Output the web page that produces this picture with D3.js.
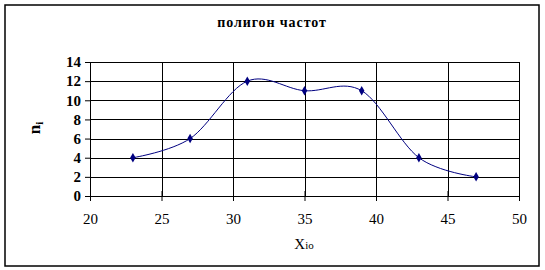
<!DOCTYPE html>
<html>
<head>
<meta charset="utf-8">
<script src="https://cdn.jsdelivr.net/npm/d3@7"></script>
<style>
  body { margin: 0; background: #fff; }
</style>
</head>
<body>
<div id="chart"></div>
<script>
(function(){

    // data
    var xValues = [23, 27, 31, 35, 39, 43, 47];
    var freqs = [4, 6, 12, 11, 11, 4, 2];
    var xTicks = [20, 25, 30, 35, 40, 45, 50];
    var yTicks = [0, 2, 4, 6, 8, 10, 12, 14];

    var width = 545;
    var height = 270;

    var margin = {
        top: 62,
        bottom: 74,
        left: 90,
        right: 26
    };

    var svg = d3.select("#chart")
        .append("svg")
            .attr("width", width)
            .attr("height", height)
            .style("font-family", '"Liberation Serif", "DejaVu Serif", serif');

    // outer frame
    svg.append("rect")
        .attr("x", 5)
        .attr("y", 5)
        .attr("width", 534)
        .attr("height", 261)
        .attr("fill", "#fff")
        .attr("stroke", "#000")
        .attr("stroke-width", 1.5);

    svg.append("text")
        .attr("x", 272)
        .attr("y", 27)
        .attr("text-anchor", "middle")
        .attr("font-size", "14px")
        .attr("font-weight", "bold")
        .attr("letter-spacing", "0.9px")
        .text("полигон частот");

    var plotW = width - margin.left - margin.right;
    var plotH = height - margin.top - margin.bottom;

    var g = svg.append("g")
        .attr("transform", "translate(" + margin.left + "," + margin.top + ")");

    var xScale = d3.scaleLinear()
        .domain([20, 50])
        .range([0, plotW]);

    var yScale = d3.scaleLinear()
        .domain([0, 14])
        .range([plotH, 0]);

    // grid
    g.selectAll(".hgrid")
        .data(yTicks.slice(1))
        .enter()
        .append("line")
        .attr("class", "hgrid")
        .attr("x1", 0)
        .attr("x2", plotW)
        .attr("y1", function(d){ return Math.round(yScale(d)) + 0.5; })
        .attr("y2", function(d){ return Math.round(yScale(d)) + 0.5; })
        .attr("stroke", "#000")
        .attr("stroke-width", 1);

    g.selectAll(".vgrid")
        .data(xTicks.slice(1))
        .enter()
        .append("line")
        .attr("class", "vgrid")
        .attr("y1", 0)
        .attr("y2", plotH)
        .attr("x1", function(d){ return Math.round(xScale(d)) + 0.5; })
        .attr("x2", function(d){ return Math.round(xScale(d)) + 0.5; })
        .attr("stroke", "#000")
        .attr("stroke-width", 1);

    // axes
    var yAxis = d3.axisLeft(yScale)
        .tickValues(yTicks)
        .tickSize(5)
        .tickPadding(4);

    var yg = g.append("g")
        .call(yAxis);
    yg.select(".domain").attr("stroke", "#000");
    yg.selectAll(".tick line").attr("stroke", "#000");
    yg.selectAll(".tick text")
        .attr("font-family", '"Liberation Serif", serif')
        .attr("font-size", "15px")
        .attr("font-weight", "bold")
        .attr("fill", "#000");

    var xAxis = d3.axisBottom(xScale)
        .tickValues(xTicks)
        .tickSize(5)
        .tickPadding(12);

    var xg = g.append("g")
        .attr("transform", "translate(0," + plotH + ")")
        .call(xAxis);
    xg.select(".domain").attr("stroke", "#000");
    xg.selectAll(".tick line")
        .attr("y1", -5)
        .attr("stroke", "#000");
    xg.selectAll(".tick text")
        .attr("font-family", '"Liberation Serif", serif')
        .attr("font-size", "15px")
        .attr("fill", "#000");

    // curve
    var line = d3.line()
        .x(function(d){ return xScale(d[0]); })
        .y(function(d){ return yScale(d[1]); })
        .curve(d3.curveCatmullRom.alpha(0));

    var points = xValues.map(function(x, i){ return [x, freqs[i]]; });

    g.append("path")
        .datum(points)
        .attr("d", line)
        .attr("fill", "none")
        .attr("stroke", "#000080")
        .attr("stroke-width", 1);

    g.selectAll(".marker")
        .data(points)
        .enter()
        .append("path")
        .attr("class", "marker")
        .attr("transform", function(d){
            return "translate(" + xScale(d[0]) + "," + yScale(d[1]) + ")";
        })
        .attr("d", d3.symbol().type(d3.symbolDiamond).size(26))
        .attr("fill", "#000080");

    // axis titles
    svg.append("text")
        .attr("transform", "translate(40,128) rotate(-90)")
        .attr("text-anchor", "middle")
        .attr("font-size", "17px")
        .attr("font-weight", "bold")
        .text("n")
        .append("tspan")
            .attr("font-size", "11px")
            .attr("dy", 3)
            .text("i");

    svg.append("text")
        .attr("x", 304)
        .attr("y", 249)
        .attr("text-anchor", "middle")
        .attr("font-size", "15px")
        .text("X")
        .append("tspan")
            .attr("font-size", "11px")
            .text("io");

})();
</script>
</body>
</html>
